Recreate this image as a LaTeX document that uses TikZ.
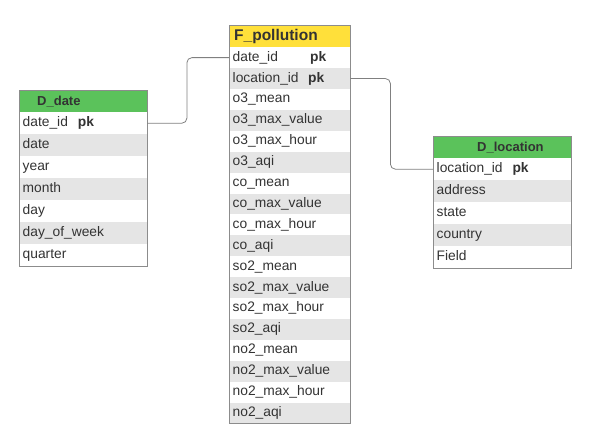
\documentclass[tikz,border=0pt]{standalone}
\usepackage{fontspec}
\setmainfont{Liberation Sans}

\definecolor{headgreen}{RGB}{91,194,91}
\definecolor{headyellow}{RGB}{255,224,58}
\definecolor{shade0}{RGB}{229,229,229}
\definecolor{shade1}{RGB}{255,255,255}
\definecolor{framegray}{RGB}{140,140,140}
\definecolor{textgray}{RGB}{51,51,51}
\definecolor{linkgray}{RGB}{128,128,128}

\tikzset{
  tblhead/.style = {draw=framegray, fill=#1, anchor=north west, minimum height=22pt, inner sep=0pt},
  headtext/.style = {anchor=west, inner sep=0pt, text=textgray, font=\bfseries\fontsize{13}{15}\selectfont},
  field/.style = {anchor=north west, inner xsep=3.5pt, inner ysep=0pt, align=left,
                  text height=10pt, text depth=3pt, text=textgray, font=\fontsize{13.8}{16.5}\selectfont},
  pkmark/.style = {anchor=west, inner sep=0pt, text=textgray, font=\bfseries\fontsize{13.8}{16.5}\selectfont},
  frame/.style = {draw=framegray, line width=0.8pt},
  link/.style = {draw=linkgray, line width=0.8pt, rounded corners=5pt}
}

\begin{document}
\begin{tikzpicture}
\useasboundingbox (0,0) rectangle (596pt,440pt);

% fact table
\node[tblhead=headyellow, minimum width=121pt] (fp-head) at (229pt,415pt) {};
\node[headtext, font=\bfseries\fontsize{15.5}{18}\selectfont] (fp-title) at ([xshift=5pt]fp-head.west) {F\_pollution};
\foreach \f [count=\i, evaluate=\i as \c using {int(mod(\i,2))}] in
  {date\_id, location\_id, o3\_mean, o3\_max\_value, o3\_max\_hour, o3\_aqi,
   co\_mean, co\_max\_value, co\_max\_hour, co\_aqi,
   so2\_mean, so2\_max\_value, so2\_max\_hour, so2\_aqi,
   no2\_mean, no2\_max\_value, no2\_max\_hour, no2\_aqi}
  \node[field, fill=shade\c, minimum width=121pt, text width=114pt, minimum height=20.9pt]
    (fp-\i) at (229pt,{393pt-(\i-1)*20.9pt}) {\f};
\draw[frame] (fp-head.north west) rectangle (fp-18.south east);
\node[pkmark] (fp-pk1) at ([xshift=81pt]fp-1.west) {pk};
\node[pkmark] (fp-pk2) at ([xshift=79pt]fp-2.west) {pk};

% date dimension
\node[tblhead=headgreen, minimum width=128pt] (dd-head) at (19pt,350pt) {};
\node[headtext] (dd-title) at ([xshift=18pt]dd-head.west) {D\_date};
\foreach \f [count=\i, evaluate=\i as \c using {int(mod(\i,2))}] in
  {date\_id, date, year, month, day, day\_of\_week, quarter}
  \node[field, fill=shade\c, minimum width=128pt, text width=121pt, minimum height=22pt]
    (dd-\i) at (19pt,{328pt-(\i-1)*22pt}) {\f};
\draw[frame] (dd-head.north west) rectangle (dd-7.south east);
\node[pkmark] (dd-pk) at ([xshift=58.7pt]dd-1.west) {pk};

% location dimension
\node[tblhead=headgreen, minimum width=138pt] (dl-head) at (433pt,304pt) {};
\node[headtext] (dl-title) at ([xshift=44pt]dl-head.west) {D\_location};
\foreach \f [count=\i, evaluate=\i as \c using {int(mod(\i,2))}] in
  {location\_id, address, state, country, Field}
  \node[field, fill=shade\c, minimum width=138pt, text width=131pt, minimum height=22pt]
    (dl-\i) at (433pt,{282pt-(\i-1)*22pt}) {\f};
\draw[frame] (dl-head.north west) rectangle (dl-5.south east);
\node[pkmark] (dl-pk) at ([xshift=79.3pt]dl-1.west) {pk};

% keys
\draw[link] (dd-1.east) -- ++(39.5pt,0) |- (fp-1.west);
\draw[link] (fp-2.east) -- ++(40pt,0) |- (dl-1.west);

\end{tikzpicture}
\end{document}
